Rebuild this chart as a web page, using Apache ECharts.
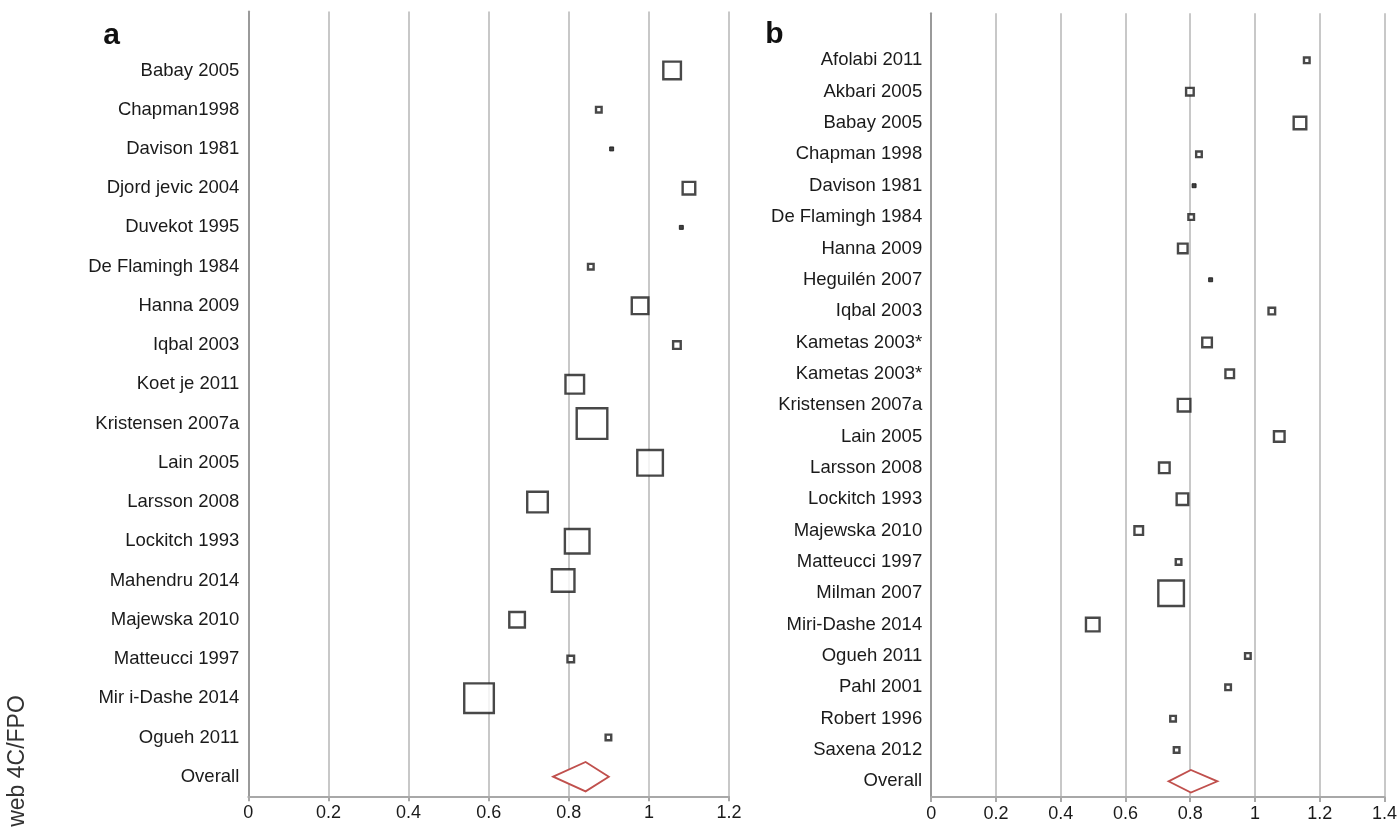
<!DOCTYPE html>
<html><head><meta charset="utf-8">
<script src="https://cdn.jsdelivr.net/npm/echarts@6/dist/echarts.min.js"></script>
<style>html,body{margin:0;padding:0;background:#fff}#c{width:1400px;height:831px}</style>
</head><body><div id="c"></div>
<script>
// ---- Panel a data ----
const studiesA = ['Babay 2005','Chapman1998','Davison 1981','Djord jevic 2004','Duvekot 1995','De Flamingh 1984','Hanna 2009','Iqbal 2003','Koet je 2011','Kristensen 2007a','Lain 2005','Larsson 2008','Lockitch 1993','Mahendru 2014','Majewska 2010','Matteucci 1997','Mir i-Dashe 2014','Ogueh 2011'];
const ratiosA  = [1.058,0.875,0.907,1.100,1.081,0.855,0.978,1.070,0.815,0.858,1.003,0.722,0.821,0.786,0.671,0.805,0.576,0.899];
const weightsA = [20,8,5,15,5,8,19,10,21,33,28,23,27,25,18,9,32,8];
const overallA = [0.761,0.842,0.900]; // lower, estimate, upper
const ticksA = [0,0.2,0.4,0.6,0.8,1,1.2];

// ---- Panel b data ----
const studiesB = ['Afolabi 2011','Akbari 2005','Babay 2005','Chapman 1998','Davison 1981','De Flamingh 1984','Hanna 2009','Heguilén 2007','Iqbal 2003','Kametas 2003*','Kametas 2003*','Kristensen 2007a','Lain 2005','Larsson 2008','Lockitch 1993','Majewska 2010','Matteucci 1997','Milman 2007','Miri-Dashe 2014','Ogueh 2011','Pahl 2001','Robert 1996','Saxena 2012'];
const ratiosB  = [1.160,0.799,1.139,0.827,0.812,0.803,0.777,0.863,1.052,0.852,0.922,0.781,1.075,0.720,0.776,0.641,0.764,0.741,0.499,0.978,0.917,0.747,0.758];
const weightsB = [8,10,15,8,5,8,12,5,9,12,11,15,13,13,14,11,8,28,16,8,8,8,8];
const overallB = [0.733,0.802,0.884];
const ticksB = [0,0.2,0.4,0.6,0.8,1,1.2,1.4];

const FONT = "'Liberation Sans', Arial, sans-serif";
const catsA = [''].concat(studiesA, ['Overall']);
const catsB = [''].concat(studiesB, ['Overall']);

function xAxisFor(gi, ticks){
  return {
    type:'value', gridIndex:gi, min:ticks[0], max:ticks[ticks.length-1], interval:0.2,
    axisLine:{show:true, lineStyle:{color:'#a8a8a8', width:2}},
    axisTick:{show:true, length:5, lineStyle:{color:'#a8a8a8', width:2}},
    axisLabel:{fontFamily:FONT, fontSize:18, color:'#1a1a1a', margin:8,
      formatter:v=>{ const r=Math.round(v*10)/10; return ticks.indexOf(r)>=0 ? String(r) : ''; }},
    splitLine:{show:true, lineStyle:{color:'#c8c8c8', width:2}}
  };
}
function yAxisFor(gi, cats){
  return {
    type:'category', gridIndex:gi, data:cats, inverse:true, boundaryGap:true,
    axisLine:{show:true, lineStyle:{color:'#9a9a9a', width:2}},
    axisTick:{show:false},
    axisLabel:{interval:0, fontFamily:FONT, fontSize:18.5, color:'#1a1a1a', margin:9},
    splitLine:{show:false}
  };
}
function pointsFor(ratios, weights){
  return ratios.map((v,i)=>{
    const w = weights[i];
    const tiny = w <= 5;
    return {value:[v, i+1], symbolSize: tiny ? 4 : w-2.4,
      itemStyle: tiny ? {color:'#111', borderColor:'#111', borderWidth:1} : {color:'#fff', borderColor:'#1a1a1a', borderWidth:2.4}};
  });
}
function diamondSeries(gi, ov, rowIdx, halfH){
  return {
    type:'custom', xAxisIndex:gi, yAxisIndex:gi,
    data:[[ov[0], ov[1], ov[2], rowIdx]],
    encode:{x:[0,1,2], y:3},
    renderItem:(params, api)=>{
      const r = api.value(3);
      const L = api.coord([api.value(0), r]);
      const C = api.coord([api.value(1), r]);
      const R = api.coord([api.value(2), r]);
      return {type:'polygon', shape:{points:[[L[0],L[1]],[C[0],C[1]-halfH],[R[0],R[1]],[C[0],C[1]+halfH]]},
        style:{fill:'#fff', stroke:'#c0504d', lineWidth:1.8}};
    },
    silent:true, z:5
  };
}

const chart = echarts.init(document.getElementById('c'), null, {renderer:'canvas'});
chart.setOption({
  animation:false,
  backgroundColor:'#fff',
  grid:[
    {left:248.3, right:1400-729, top:11.6, bottom:831-796.3},
    {left:931.2, right:1400-1387.4, top:13.3, bottom:831-797}
  ],
  xAxis:[xAxisFor(0, ticksA), xAxisFor(1, ticksB)],
  yAxis:[yAxisFor(0, catsA), yAxisFor(1, catsB)],
  series:[
    {type:'scatter', xAxisIndex:0, yAxisIndex:0, symbol:'rect', data:pointsFor(ratiosA, weightsA), z:4},
    {type:'scatter', xAxisIndex:1, yAxisIndex:1, symbol:'rect', data:pointsFor(ratiosB, weightsB), z:4},
    diamondSeries(0, overallA, catsA.length-1, 14.7),
    diamondSeries(1, overallB, catsB.length-1, 11.3)
  ],
  graphic:[
    {type:'text', x:111.5, y:36, style:{text:'a', font:"bold 30px "+FONT, fill:'#111', textAlign:'center', textVerticalAlign:'middle'}},
    {type:'text', x:774.5, y:35, style:{text:'b', font:"bold 30px "+FONT, fill:'#111', textAlign:'center', textVerticalAlign:'middle'}},
    {type:'text', x:18, y:761, rotation:Math.PI/2, style:{text:'web 4C/FPO', font:"23px "+FONT, fill:'#333', textAlign:'center', textVerticalAlign:'middle'}}
  ]
});
</script>
</body></html>
